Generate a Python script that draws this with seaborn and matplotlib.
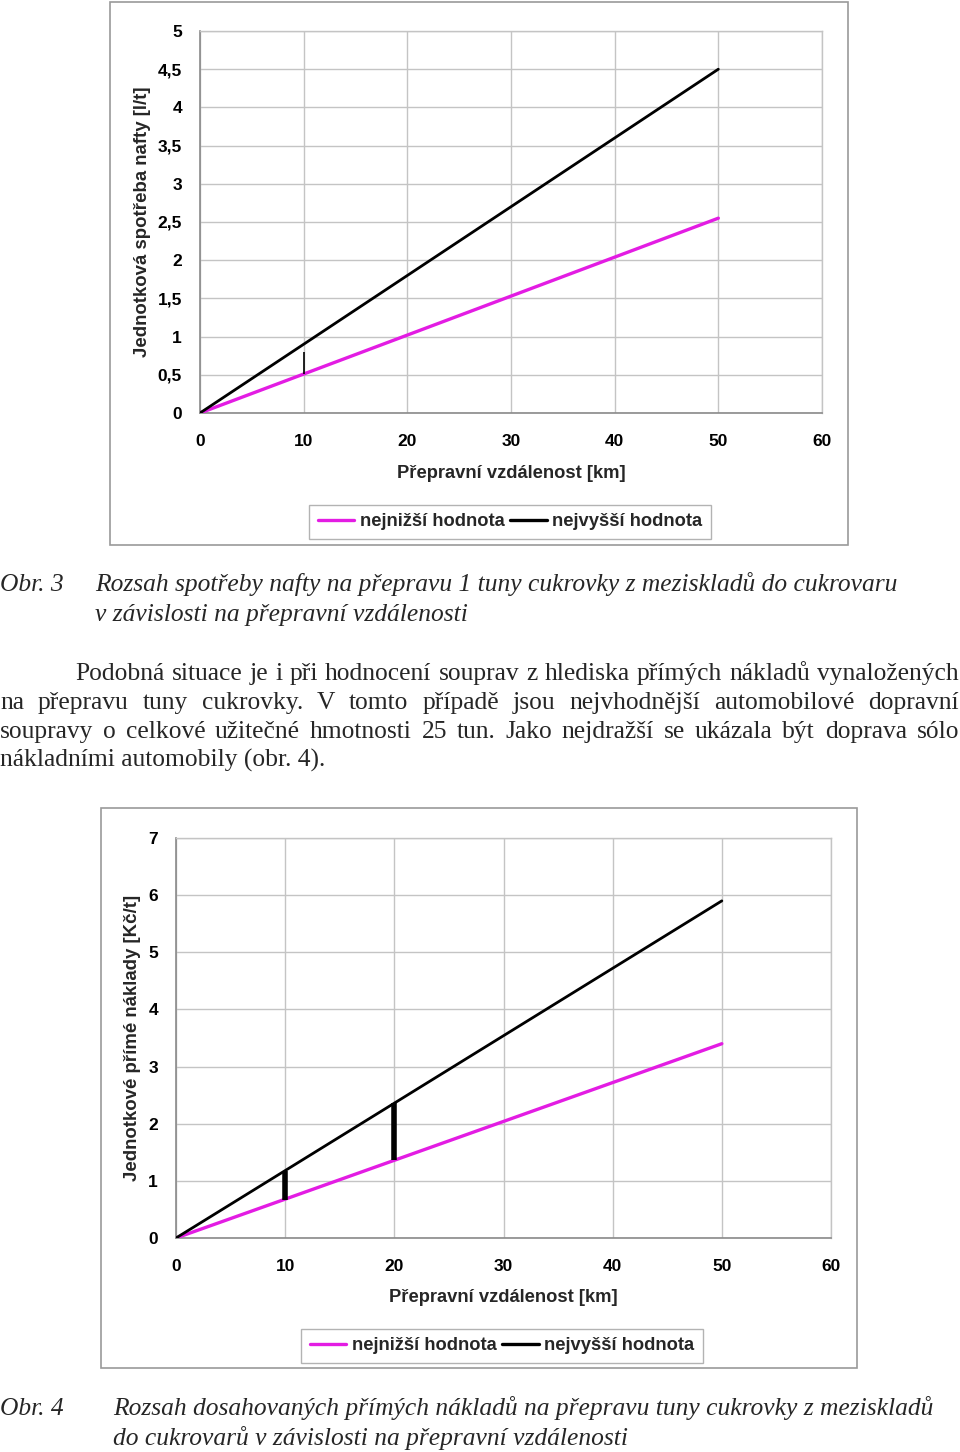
import matplotlib
matplotlib.use('Agg')
import matplotlib.pyplot as plt
import seaborn as sns
import pandas as pd
from matplotlib.patches import Rectangle
from matplotlib.lines import Line2D
from matplotlib.ticker import FuncFormatter, FixedLocator

# ---------------- data ----------------
distance_km = [0, 10, 20, 30, 40, 50]

fuel_low = [0, 0.51, 1.02, 1.53, 2.04, 2.55]
fuel_high = [0, 0.90, 1.80, 2.70, 3.60, 4.50]
fuel_range_x = [10]
fuel_range_lo = [0.51]
fuel_range_hi = [0.80]

cost_low = [0, 0.68, 1.36, 2.04, 2.72, 3.40]
cost_high = [0, 1.18, 2.36, 3.54, 4.72, 5.90]
cost_range_x = [10, 20]
cost_range_lo = [0.67, 1.37]
cost_range_hi = [1.17, 2.37]

series_labels = ['nejnižší hodnota', 'nejvyšší hodnota']
x_label = 'Přepravní vzdálenost [km]'
fuel_ylabel = 'Jednotková spotřeba nafty [l/t]'
cost_ylabel = 'Jednotkové přímé náklady [Kč/t]'
x_ticks = [0, 10, 20, 30, 40, 50, 60]
fuel_yticks = [0, 0.5, 1, 1.5, 2, 2.5, 3, 3.5, 4, 4.5, 5]
cost_yticks = [0, 1, 2, 3, 4, 5, 6, 7]

caption3_label = 'Obr. 3'
caption3 = ['Rozsah spotřeby nafty na přepravu 1 tuny cukrovky z meziskladů do cukrovaru',
            'v závislosti na přepravní vzdálenosti']
paragraph = ['Podobná situace je i při hodnocení souprav z hlediska přímých nákladů vynaložených',
             'na přepravu tuny cukrovky. V tomto případě jsou nejvhodnější automobilové dopravní',
             'soupravy o celkové užitečné hmotnosti 25 tun. Jako nejdražší se ukázala být doprava sólo',
             'nákladními automobily (obr. 4).']
caption4_label = 'Obr. 4'
caption4 = ['Rozsah dosahovaných přímých nákladů na přepravu tuny cukrovky z meziskladů',
            'do cukrovarů v závislosti na přepravní vzdálenosti']

# ---------------- style ----------------
sns.set_theme(style='white')
plt.rcParams['font.family'] = ['Liberation Sans', 'DejaVu Sans']
plt.rcParams['font.weight'] = 'bold'

MAGENTA = '#E31CE3'
GRID = '#c4c4c4'
AXIS = '#8a8a8a'
SERIF = ['Liberation Serif', 'DejaVu Serif']

W, H = 960, 1452
fig = plt.figure(figsize=(W / 100, H / 100), dpi=100)
fig.patch.set_facecolor('white')


def fx(px):
    return px / W


def fy(py):
    return 1 - py / H


def fmt(v, p):
    return ('%g' % v).replace('.', ',')


def make_chart(rect, low, high, rx, rlo, rhi, rlw, yticks, ylabel, ylab_x, xlab_y,
               leg_center, frame):
    # outer chart frame
    fig.patches.append(Rectangle((fx(frame[0]), fy(frame[3])), fx(frame[2] - frame[0]),
                                 (frame[3] - frame[1]) / H, transform=fig.transFigure,
                                 fill=False, edgecolor='#9a9a9a', linewidth=1.2))
    ax = fig.add_axes([fx(rect[0]), fy(rect[3]), fx(rect[2] - rect[0]), (rect[3] - rect[1]) / H])
    df = pd.DataFrame({'dist': distance_km + distance_km,
                       'val': low + high,
                       'series': [series_labels[0]] * len(low) + [series_labels[1]] * len(high)})
    sns.lineplot(data=df[df.series == series_labels[0]], x='dist', y='val', color=MAGENTA,
                 linewidth=2.4, ax=ax, legend=False, zorder=3)
    sns.lineplot(data=df[df.series == series_labels[1]], x='dist', y='val', color='black',
                 linewidth=2.0, ax=ax, legend=False, zorder=4)
    ax.vlines(rx, rlo, rhi, color='black', linewidth=rlw, zorder=5)
    ax.set_xlim(0, 60)
    ax.set_ylim(yticks[0], yticks[-1])
    ax.xaxis.set_major_locator(FixedLocator(x_ticks))
    ax.yaxis.set_major_locator(FixedLocator(yticks))
    ax.xaxis.set_major_formatter(FuncFormatter(fmt))
    ax.yaxis.set_major_formatter(FuncFormatter(fmt))
    ax.grid(True, color=GRID, linewidth=1.0)
    ax.set_axisbelow(True)
    for s in ['top', 'right']:
        ax.spines[s].set_color(GRID)
        ax.spines[s].set_linewidth(1.0)
    for s in ['left', 'bottom']:
        ax.spines[s].set_color(AXIS)
        ax.spines[s].set_linewidth(1.2)
    ax.tick_params(axis='x', direction='out', length=4, width=1, color=AXIS, pad=11,
                   labelsize=12.5, labelcolor='black')
    ax.tick_params(axis='y', direction='out', length=4, width=1, color=AXIS, pad=9,
                   labelsize=12.5, labelcolor='black')
    for lab in ax.get_xticklabels() + ax.get_yticklabels():
        lab.set_fontweight('bold')
    ax.set_xlabel(x_label, fontsize=13.2, fontweight='bold')
    ax.set_ylabel(ylabel, fontsize=13.4, fontweight='bold')
    hpx = rect[3] - rect[1]
    wpx = rect[2] - rect[0]
    ax.xaxis.set_label_coords(0.5, -(xlab_y - rect[3]) / hpx)
    ax.yaxis.set_label_coords((ylab_x - rect[0]) / wpx, 0.5)
    handles = [Line2D([], [], color=MAGENTA, linewidth=2.4),
               Line2D([], [], color='black', linewidth=2.4)]
    leg = ax.legend(handles, series_labels, loc='center', ncol=2,
                    bbox_to_anchor=(fx(leg_center[0]), fy(leg_center[1])),
                    bbox_transform=fig.transFigure, frameon=True, fancybox=False,
                    edgecolor='#a0a0a0', handlelength=2.0, handletextpad=0.3,
                    columnspacing=0.3, borderpad=0.45, prop={'size': 13.2, 'weight': 'bold'})
    leg.get_frame().set_linewidth(1.0)
    return ax


make_chart((200, 31, 822, 413), fuel_low, fuel_high, fuel_range_x, fuel_range_lo, fuel_range_hi,
           1.2, fuel_yticks, fuel_ylabel, 151, 465, (510, 522), (110, 2, 848, 545))
make_chart((176, 838, 831, 1238), cost_low, cost_high, cost_range_x, cost_range_lo, cost_range_hi,
           4.0, cost_yticks, cost_ylabel, 141, 1289, (502, 1346), (101, 808, 857, 1368))

# ---------------- text ----------------
FS = 18.4
renderer = fig.canvas.get_renderer()


def justify(line, x0, x1, y_base, fs, style='normal'):
    words = line.split(' ')
    texts = [fig.text(fx(x0), fy(y_base), w, fontsize=fs, family=SERIF, style=style,
                      fontweight='normal', va='baseline', ha='left') for w in words]
    widths = [t.get_window_extent(renderer).width for t in texts]
    gap = (x1 - x0 - sum(widths)) / max(len(words) - 1, 1)
    x = x0
    for t, w in zip(texts, widths):
        t.set_x(fx(x))
        x += w + gap


def plain(line, x0, y_base, fs, style='normal'):
    fig.text(fx(x0), fy(y_base), line, fontsize=fs, family=SERIF, style=style,
             fontweight='normal', va='baseline', ha='left')


plain(caption3_label, 0, 591, FS, 'italic')
plain(caption3[0], 95, 591, FS, 'italic')
plain(caption3[1], 95, 621, FS, 'italic')

justify(paragraph[0], 75, 959, 680, FS)
justify(paragraph[1], 0, 959, 709, FS)
justify(paragraph[2], 0, 959, 738, FS)
plain(paragraph[3], 0, 767, FS)

plain(caption4_label, 0, 1415, FS, 'italic')
plain(caption4[0], 113, 1415, FS, 'italic')
plain(caption4[1], 113, 1445, FS, 'italic')

fig.savefig('out.png', dpi=100, facecolor='white')
